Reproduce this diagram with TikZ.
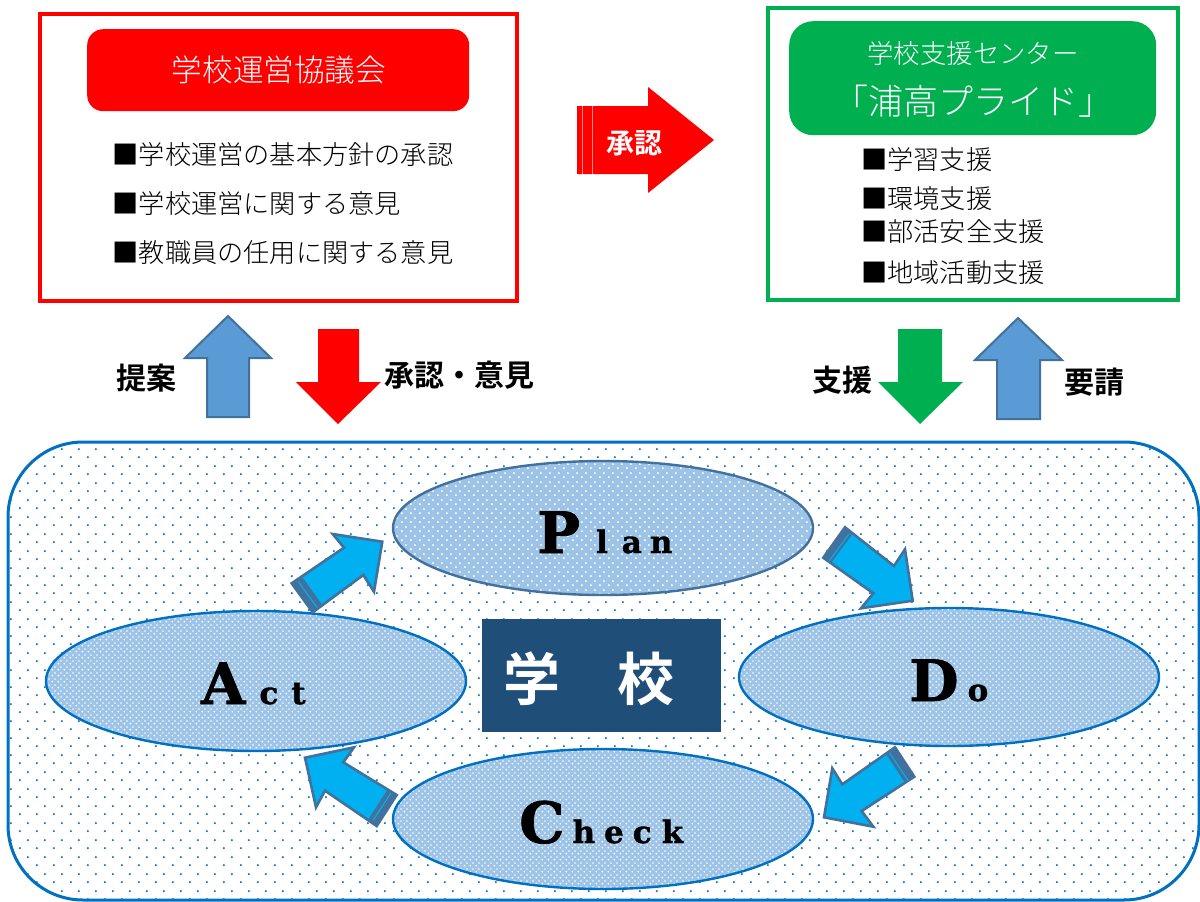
\documentclass[tikz,border=0pt]{standalone}
\usepackage{fontspec}
\setmainfont{Noto Sans CJK JP Light}[BoldFont={Noto Sans CJK JP Bold}]
\newfontfamily\latinf{DejaVu Serif}[BoldFeatures={FakeBold=1.2}]
\usetikzlibrary{shapes.geometric,patterns}
\definecolor{rd}{HTML}{FF0000}
\definecolor{gr}{HTML}{00B050}
\definecolor{bl}{HTML}{0070C0}
\definecolor{stk}{HTML}{41719C}
\definecolor{mid}{HTML}{5B9BD5}
\definecolor{pale}{HTML}{9DC3E6}
\definecolor{cy}{HTML}{00B0F0}
\definecolor{navy}{HTML}{1F4E79}
\newcommand{\fsz}[1]{\fontsize{#1}{#1}\selectfont}
\pgfdeclarepatternformonly{fieldDots}{\pgfqpoint{0pt}{0pt}}{\pgfqpoint{17pt}{17pt}}{\pgfqpoint{17pt}{17pt}}{%
  \pgfpathcircle{\pgfqpoint{3pt}{3pt}}{1.2pt}%
  \pgfpathcircle{\pgfqpoint{11.5pt}{11.5pt}}{1.2pt}%
  \pgfusepath{fill}}
\pgfdeclarepatternformonly{cellDots}{\pgfqpoint{0pt}{0pt}}{\pgfqpoint{8.5pt}{8.5pt}}{\pgfqpoint{8.5pt}{8.5pt}}{%
  \pgfpathcircle{\pgfqpoint{2pt}{2pt}}{1.15pt}%
  \pgfpathcircle{\pgfqpoint{6.25pt}{6.25pt}}{1.15pt}%
  \pgfusepath{fill}}
\pgfdeclarepatternformonly{fineDots}{\pgfqpoint{0pt}{0pt}}{\pgfqpoint{5.67pt}{5.67pt}}{\pgfqpoint{5.67pt}{5.67pt}}{%
  \pgfpathcircle{\pgfqpoint{1.4pt}{1.4pt}}{1pt}%
  \pgfpathcircle{\pgfqpoint{4.23pt}{4.23pt}}{1pt}%
  \pgfusepath{fill}}
\newcommand{\letters}[5]{% name, x, baseline, capital, rest
  \node[anchor=base west,inner sep=0pt,font=\latinf\bfseries] (#1) at (#2,#3) {\fsz{57}#4\fsz{31}#5};}
\tikzset{
  x=1pt,y=-1pt,
  outerbox/.style={draw,line width=4pt,fill=white,rectangle,inner sep=0pt,anchor=north west},
  titlebox/.style={rectangle,inner sep=0pt,anchor=north west,text=white,align=center},
  item/.style={anchor=west,inner sep=0pt,font=\fsz{26.2}},
  bigsay/.style={inner sep=0pt,font=\fsz{30}\bfseries},
  cyanarrow/.style={draw=stk,fill=cy,line width=2.6pt,line join=miter},
  band/.style={fill=stk},
  bandline/.style={draw=cy,line width=1.1pt},
  bluearrow/.style={draw=stk,fill=mid,line width=2pt,line join=miter},
  cellfill/.style={pattern=cellDots,pattern color=white},
  finefill/.style={pattern=fineDots,pattern color=white},
}
\begin{document}
\begin{tikzpicture}
\useasboundingbox (0,0) rectangle (1200,902);
% red panel
\node[outerbox,draw=rd,minimum width=477pt,minimum height=287pt] (redbox) at (38,12) {};
\node[titlebox,fill=rd,rounded corners=16pt,minimum width=382pt,minimum height=82pt] (redtitle) at (87,29) {};
\node[inner sep=0pt,text=white,font=\fsz{30.6}] (redlabel) at (279,70) {学校運営協議会};
\node[item] (r1) at (112.5,154.5) {■学校運営の基本方針の承認};
\node[item] (r2) at (112.5,203.5) {■学校運営に関する意見};
\node[item] (r3) at (112.5,252.5) {■教職員の任用に関する意見};
% green panel
\node[outerbox,draw=gr,minimum width=410pt,minimum height=292pt] (greenbox) at (766,6) {};
\node[titlebox,fill=gr,rounded corners=24pt,minimum width=367pt,minimum height=114pt] (greentitle) at (789,21) {};
\node[inner sep=0pt,text=white,font=\fsz{26.4}] (g0) at (973,53) {学校支援センター};
\node[inner sep=0pt,text=white,font=\fsz{35}] (g00) at (973,101) {「浦高プライド」};
\node[item] (g1) at (861,159.5) {■学習支援};
\node[item] (g2) at (861,198.5) {■環境支援};
\node[item] (g3) at (861,231.5) {■部活安全支援};
\node[item] (g4) at (861,272.5) {■地域活動支援};
% approval arrow
\fill[rd] (577,106) -- (648,106) -- (648,87) -- (714,140) -- (648,193) -- (648,174) -- (577,174) -- cycle;
\draw[white,opacity=.55,line width=.9pt] (582.5,106) -- (582.5,174) (592,106) -- (592,174);
\node[inner sep=0pt,text=white,font=\fsz{28}\bfseries] (appr) at (634,143) {承認};
% vertical arrows
\draw[bluearrow] (228,316) -- (271,358) -- (249,358) -- (249,417) -- (207,417) -- (207,358) -- (185,358) -- cycle;
\fill[rd] (318,329) -- (359,329) -- (359,382) -- (381,382) -- (338,424) -- (296,382) -- (318,382) -- cycle;
\fill[gr] (898,329) -- (942,329) -- (942,382) -- (963,382) -- (920,424) -- (878,382) -- (898,382) -- cycle;
\draw[bluearrow] (1018,318) -- (1062,360) -- (1040,360) -- (1040,419) -- (997,419) -- (997,360) -- (975,360) -- cycle;
\node[bigsay] (l1) at (146,378) {提案};
\node[bigsay] (l2) at (459,375) {承認・意見};
\node[bigsay] (l3) at (842,380) {支援};
\node[bigsay] (l4) at (1094,382) {要請};
% school field
\fill[pattern=fieldDots,pattern color=bl,rounded corners=75pt] (8,442) rectangle (1199,900);
\draw[bl,line width=3pt,rounded corners=75pt] (8,442) rectangle (1199,900);
% cycle ellipses
\fill[pale] (603,528) ellipse [x radius=210,y radius=67];
\fill[cellfill] (603,528) ellipse [x radius=210,y radius=67];
\draw[stk,line width=2.4pt] (603,528) ellipse [x radius=210,y radius=67];
\fill[pale] (256,681) ellipse [x radius=210,y radius=70];
\fill[finefill] (256,681) ellipse [x radius=210,y radius=70];
\draw[bl,line width=2.4pt] (256,681) ellipse [x radius=210,y radius=70];
\fill[pale] (949,677) ellipse [x radius=210,y radius=69];
\fill[finefill] (949,677) ellipse [x radius=210,y radius=69];
\draw[bl,line width=2.4pt] (949,677) ellipse [x radius=210,y radius=69];
\fill[pale] (603,819) ellipse [x radius=210,y radius=70];
\fill[finefill] (603,819) ellipse [x radius=210,y radius=70];
\draw[bl,line width=2.4pt] (603,819) ellipse [x radius=210,y radius=70];
\letters{plan}{537}{553}{P}{\kern 16pt l\kern 14pt a\kern 8pt n}
\letters{act}{201}{704}{A}{\kern 14pt c\kern 13pt t}
\letters{do}{909}{701}{D}{\kern 9pt o}
\letters{check}{519}{843}{C}{\kern 8pt h\kern 9pt e\kern 9pt c\kern 10pt k}
% school label
\node[rectangle,fill=navy,text=white,minimum width=239pt,minimum height=113pt,inner sep=0pt,anchor=north west] (school) at (482,619) {};
\node[inner sep=0pt,text=white,font=\fsz{57}\bfseries] (schoollabel) at (589,679) {学　校};
% cycle arrows
\draw[cyanarrow] (291.7,583.3) -- (344,547.7) -- (332.7,534) -- (382.3,541.7) -- (374,591.7) -- (363.3,575) -- (312.7,612.3) -- cycle;
\fill[band] (291.7,583.3) -- (302.7,577.7) -- (322.3,605) -- (312.7,612.3) -- cycle;
\draw[bandline] (298.3,581.7) -- (317.3,607.7);
\draw[cyanarrow] (845,527.3) -- (894,566) -- (905,549.3) -- (912.7,600.7) -- (861,608.3) -- (873.3,593.3) -- (823.3,557.7) -- cycle;
\fill[band] (845,527.3) -- (851.7,535) -- (830.7,563.3) -- (823.3,557.7) -- cycle;
\draw[bandline] (849,534) -- (829.3,560.7);
\draw[cyanarrow] (895,747.3) -- (914.3,776.7) -- (861.7,811) -- (873.3,826.7) -- (824,817.3) -- (832.3,768.3) -- (842.3,784.3) -- cycle;
\fill[band] (895,747.3) -- (914.3,776.7) -- (905,782.7) -- (886,754) -- cycle;
\draw[bandline] (889.3,752.7) -- (908.3,780.7);
\draw[cyanarrow] (305,757.7) -- (354,747.3) -- (343.3,762.3) -- (396.7,795) -- (376.7,826) -- (325,790.7) -- (316,807.3) -- cycle;
\fill[band] (396.7,795) -- (376.7,826) -- (368.3,819.3) -- (387.3,790) -- cycle;
\draw[bandline] (390.7,793.3) -- (373.3,820);
\end{tikzpicture}
\end{document}
